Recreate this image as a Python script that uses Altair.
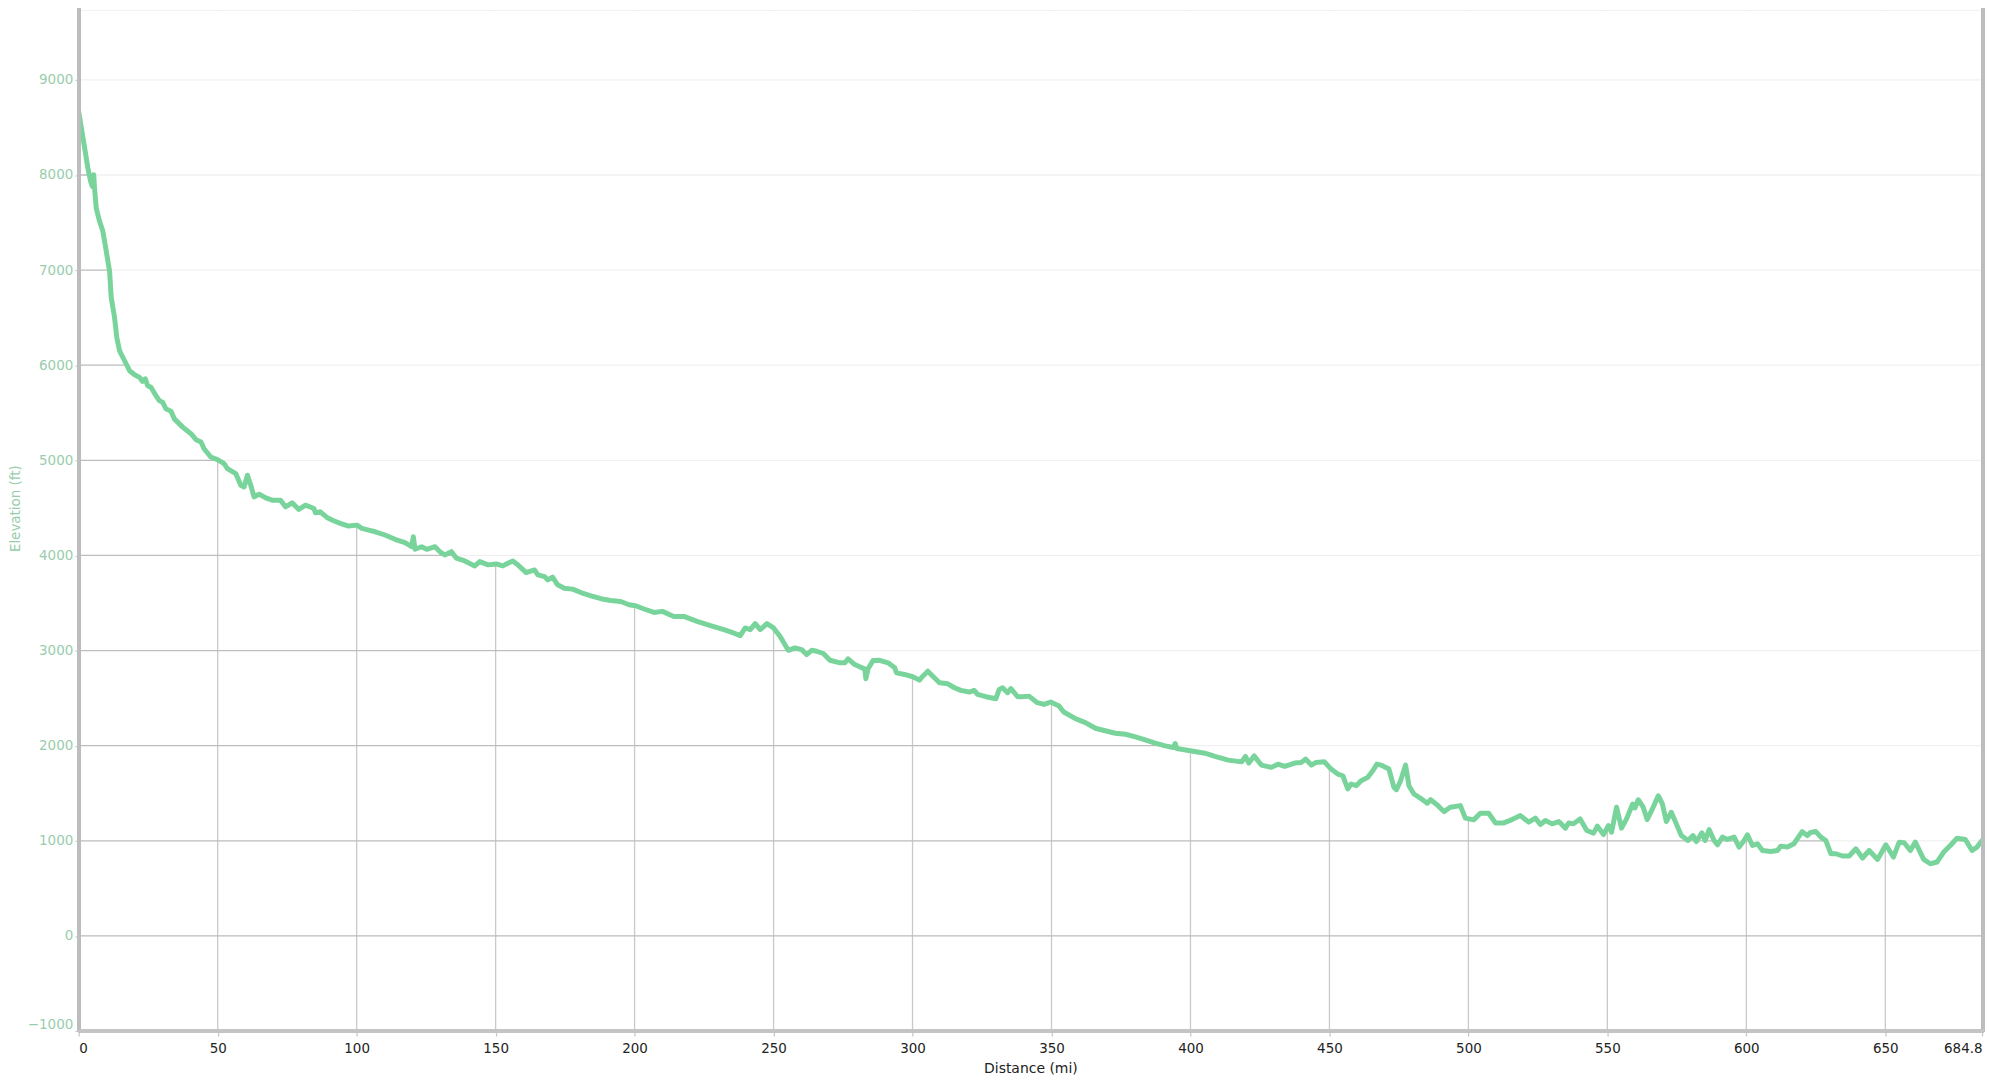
import altair as alt
import pandas as pd

# Distance along route (mi) and elevation (ft)
distance_mi = [
    0, 0.97, 2.15, 3.3, 4.3, 4.9, 5.4, 5.7, 6.3, 7.5, 8.7, 9.9, 11.1, 11.7, 12.9, 13.7, 14.7,
    16.5, 18.3, 20.1, 21.9, 23.0, 24.0, 24.8, 26.0, 27.8, 29.0, 30.2, 31.4, 33.2, 34.4, 37.4,
    40.4, 42.2, 44.0, 45.1, 47.5, 49.9, 52.3, 53.5, 56.5, 58.3, 59.5, 60.7, 61.9, 63.1, 64.9,
    67.3, 69.6, 72.6, 74.4, 76.8, 79.2, 81.6, 84.6, 85.2, 86.9, 89.3, 91.7, 94.1, 97.1, 100.1,
    101.9, 104.3, 106.7, 110.2, 113.8, 117.4, 119.8, 120.4, 121.0, 123.4, 125.2, 128.2, 129.9,
    131.7, 134.1, 135.9, 138.9, 142.5, 144.3, 147.3, 150.2, 152.6, 154.4, 156.2, 158.0, 161.0,
    164.0, 165.2, 167.6, 168.8, 170.5, 172.3, 174.7, 177.7, 180.7, 184.3, 187.9, 191.4, 195.0,
    198.0, 200.4, 203.4, 207.0, 210.0, 214.1, 217.7, 222.5, 227.3, 232.1, 235.6, 238.0, 239.8,
    241.6, 243.4, 245.2, 247.6, 250.0, 252.3, 255.3, 257.7, 260.1, 261.9, 263.7, 265.5, 267.9,
    270.3, 273.9, 275.7, 276.8, 279.2, 281.0, 282.8, 283.2, 284.0, 285.8, 288.2, 291.2, 293.6,
    294.2, 297.1, 300.1, 302.5, 303.7, 305.5, 307.3, 309.7, 312.7, 315.1, 317.4, 320.4, 322.2,
    323.4, 326.4, 330.0, 331.2, 332.4, 334.2, 335.4, 337.8, 339.5, 341.9, 344.9, 347.3, 349.7,
    352.7, 354.4, 358.6, 362.2, 365.8, 368.2, 373.0, 376.6, 380.2, 383.7, 387.3, 390.9, 393.9,
    394.5, 395.1, 399.9, 405.2, 408.8, 413.6, 418.4, 419.8, 421.0, 422.9, 425.5, 429.1, 431.5,
    433.9, 437.5, 439.9, 441.4, 443.5, 445.2, 448.2, 450.6, 453.0, 454.8, 456.6, 457.8, 459.6,
    461.4, 463.8, 465.6, 467.1, 468.5, 471.4, 473.2, 474.1, 475.6, 477.4, 478.6, 480.4, 482.8,
    485.2, 486.4, 488.8, 491.2, 493.5, 497.1, 498.9, 501.9, 504.3, 507.3, 509.7, 512.7, 515.7,
    518.7, 521.7, 524.1, 525.9, 527.7, 530.1, 532.5, 534.9, 536.1, 537.8, 540.2, 542.6, 545.0,
    546.4, 548.6, 550.4, 551.5, 553.3, 555.1, 556.9, 559.1, 559.9, 561.1, 562.9, 564.3, 566.2,
    568.3, 569.8, 571.2, 573.0, 574.8, 576.6, 579.0, 580.8, 582.0, 584.0, 585.2, 586.6, 588.4,
    589.6, 591.4, 593.2, 595.6, 597.4, 599.2, 600.4, 602.2, 604.0, 605.8, 608.8, 611.2, 612.4,
    614.8, 617.1, 618.3, 620.1, 621.9, 623.1, 625.0, 626.8, 628.6, 630.4, 632.2, 634.6, 637.0,
    639.4, 641.8, 644.2, 647.2, 650.2, 652.9, 655.0, 656.8, 659.0, 660.8, 663.8, 666.2, 668.6,
    671.0, 673.4, 675.8, 678.8, 681.2, 683.0, 684.8,
]
elevation_ft = [
    8665, 8490, 8281, 8071, 7932, 7880, 8002, 7862, 7652, 7513, 7408, 7199, 6990, 6710, 6500, 6291, 6152,
    6047, 5942, 5900, 5872, 5830, 5855, 5785, 5768, 5680, 5628, 5610, 5541, 5516, 5436, 5349,
    5280, 5217, 5192, 5122, 5035, 5007, 4965, 4913, 4861, 4738, 4720, 4843, 4738, 4616, 4644,
    4605, 4581, 4581, 4511, 4553, 4484, 4529, 4494, 4448, 4459, 4400, 4365, 4337, 4309, 4319,
    4285, 4267, 4249, 4215, 4170, 4134, 4092, 4197, 4065, 4092, 4065, 4092, 4040,
    4005, 4040, 3971, 3942, 3890, 3935, 3901, 3911, 3890, 3918, 3942, 3901, 3820,
    3848, 3796, 3778, 3743, 3772, 3691, 3656, 3646, 3610, 3576, 3545, 3527, 3516,
    3482, 3471, 3437, 3401, 3412, 3359, 3359, 3307, 3262, 3220, 3185, 3157, 3238,
    3220, 3283, 3220, 3283, 3238, 3150, 3003, 3028, 3010, 2958, 3003, 2993, 2969,
    2898, 2871, 2871, 2913, 2853, 2829, 2808, 2704, 2808, 2895, 2898, 2871, 2819,
    2766, 2749, 2725, 2689, 2731, 2783, 2731, 2662, 2651, 2609, 2581, 2564, 2581,
    2539, 2515, 2494, 2592, 2609, 2557, 2599, 2515, 2515, 2521, 2452, 2434, 2459,
    2417, 2354, 2285, 2243, 2183, 2165, 2131, 2120, 2092, 2061, 2026, 1998, 1981,
    2023, 1970, 1946, 1921, 1887, 1848, 1830, 1887, 1817, 1893, 1796, 1772, 1806,
    1782, 1817, 1824, 1859, 1796, 1824, 1830, 1754, 1702, 1684, 1545, 1597, 1579,
    1632, 1667, 1736, 1806, 1796, 1754, 1562, 1537, 1632, 1796, 1579, 1492, 1447,
    1395, 1432, 1377, 1307, 1353, 1370, 1238, 1220, 1290, 1290, 1188, 1188, 1223,
    1265, 1196, 1238, 1171, 1213, 1178, 1202, 1133, 1188, 1178, 1230, 1108, 1081,
    1154, 1066, 1160, 1091, 1353, 1133, 1230, 1387, 1345, 1432, 1353, 1223, 1335,
    1474, 1387, 1202, 1300, 1178, 1055, 1003, 1055, 992, 1084, 1003, 1118, 1003,
    958, 1039, 1014, 1039, 934, 1003, 1063, 951, 968, 898, 888, 898, 944,
    934, 969, 1021, 1097, 1055, 1088, 1097, 1039, 1003, 864, 864, 840, 840,
    916, 819, 898, 804, 958, 829, 986, 979, 898, 986, 804, 759, 777,
    882, 951, 1028, 1014, 898, 934, 1003,
]

x_ticks = [0, 50, 100, 150, 200, 250, 300, 350, 400, 450, 500, 550, 600, 650, 684.8]
y_ticks = [-1000, 0, 1000, 2000, 3000, 4000, 5000, 6000, 7000, 8000, 9000]

df = pd.DataFrame({"d": distance_mi, "e": elevation_ft})
ygrid_df = pd.DataFrame({"e": y_ticks})
xgrid_df = pd.DataFrame({"d": x_ticks[1:-1]})

FONT = "DejaVu Sans"
LINE = "#78d49b"
YCOL = "#98cdab"
GRID = "#c9c9c9"
W, H = 1911, 1025
Y_TOP = 9733
X_SCALE = alt.Scale(domain=[0, 684.8], nice=False, zero=False)
Y_SCALE = alt.Scale(domain=[-1000, Y_TOP], nice=False, zero=False)

X_AXIS = alt.Axis(
    values=x_ticks, labelExpr="'' + datum.value", grid=False, domain=False,
    ticks=True, tickColor=GRID, tickSize=5, tickWidth=1.3,
    labelColor="#222222", labelFont=FONT, labelFontSize=13.5, labelPadding=6,
    labelFlush=True, title="Distance (mi)", titleFont=FONT, titleFontSize=14,
    titleFontWeight="normal", titleColor="#222222", titlePadding=6,
)
Y_AXIS = alt.Axis(
    values=y_ticks, format="d", grid=False, domain=False,
    ticks=True, tickColor=GRID, tickSize=4, labelColor=YCOL, labelFont=FONT,
    labelFontSize=13.5, labelPadding=2, labelFlush=True,
    title="Elevation (ft)", titleFont=FONT, titleFontSize=13.5,
    titleFontWeight="normal", titleColor=YCOL, titleX=-63, titleY=500,
    titleAngle=270, titleAlign="center", titleBaseline="middle",
)


def xe():
    return alt.X("d:Q", scale=X_SCALE, axis=X_AXIS, title="Distance (mi)")


def ye():
    return alt.Y("e:Q", scale=Y_SCALE, axis=Y_AXIS, title="Elevation (ft)")


# darker grid (visible below the profile)
hgrid = alt.Chart(ygrid_df).mark_rule(color=GRID, strokeWidth=1.3).encode(y=ye())
vgrid = alt.Chart(xgrid_df).mark_rule(color=GRID, strokeWidth=1.3).encode(x=xe())

base = alt.Chart(df)

# white cover above the profile hides the darker grid there
cover = base.mark_area(fill="white", opacity=1, clip=True).encode(
    x=xe(), y=ye(), y2=alt.Y2(datum=Y_TOP)
)

# faint grid lines over the cover
faint = alt.Chart(ygrid_df).mark_rule(color="#000000", opacity=0.06, strokeWidth=1.3).encode(y=ye())

profile = base.mark_line(
    color=LINE, strokeWidth=5, strokeJoin="round", strokeCap="round", clip=True
).encode(x=xe(), y=ye())

left_border = alt.Chart(df).mark_rule(color="#bdbdbd", strokeWidth=3).encode(
    x=alt.value(0), y=alt.value(-10), y2=alt.value(H)
)
right_border = alt.Chart(df).mark_rule(color="#bdbdbd", strokeWidth=3).encode(
    x=alt.value(W + 1), y=alt.value(-10), y2=alt.value(H)
)
bottom_border = alt.Chart(df).mark_rule(color="#c4c4c4", strokeWidth=3).encode(
    x=alt.value(0), x2=alt.value(W + 2), y=alt.value(H)
)

chart = alt.layer(
    hgrid, vgrid, cover, faint, profile, left_border, right_border, bottom_border
).properties(
    width=W, height=H,
    autosize=alt.AutoSizeParams(type="none"),
    padding={"left": 71, "top": 0, "right": 10, "bottom": 45},
).configure_view(stroke=None).configure(background="white")

chart.save("out.html", embed_options={"renderer": "svg", "actions": False})
